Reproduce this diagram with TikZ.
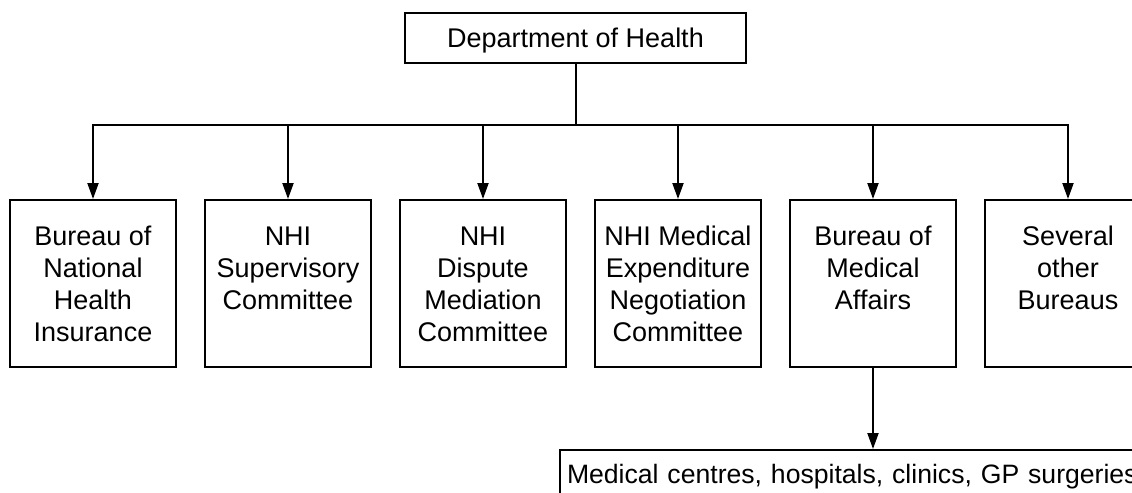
\documentclass[tikz,border=0pt]{standalone}
\usepackage{fontspec}
\setmainfont{Liberation Sans}
\usetikzlibrary{positioning,arrows.meta}

\newcommand{\stacked}[1]{\begin{tabular}[t]{@{}c@{}}#1\end{tabular}}

\begin{document}
\begin{tikzpicture}[line width=1pt,>={Triangle[length=8pt,width=5.5pt]},
				every node/.style={font=\fontsize{13.5pt}{16pt}\selectfont},
				head/.style={draw,minimum width=170.5pt,minimum height=25pt,inner sep=0pt,text height=9.7pt,text depth=0pt},
				unit/.style={draw,minimum width=83pt,inner sep=0pt,text height=22.5pt,text depth=61pt},
				care/.style={draw,anchor=north west,text width=300pt,align=left,inner xsep=3.5pt,inner ysep=6.5pt,text height=10pt,text depth=20pt,
					font=\fontsize{13.3pt}{16pt}\selectfont},
				node distance=13.5pt]
				\useasboundingbox (0,0) rectangle (566pt,-246.5pt);
				\node (DOH)   [head] at (287.75pt,-19pt)                        {Department of Health};
				\node (BNHI)  [unit,anchor=north west] at (4.5pt,-99.5pt)       {\stacked{Bureau of\\National\\Health\\Insurance}};
				\node (SUP)   [unit,right=of BNHI]                              {\stacked{NHI\\Supervisory\\Committee}};
				\node (DISP)  [unit,right=of SUP]                               {\stacked{NHI\\Dispute\\Mediation\\Committee}};
				\node (NEGO)  [unit,right=of DISP]                              {\stacked{NHI Medical\\Expenditure\\Negotiation\\Committee}};
				\node (BMA)   [unit,right=of NEGO]                              {\stacked{Bureau of\\Medical\\Affairs}};
				\node (OTHER) [unit,right=of BMA]                               {\stacked{Several\\other\\Bureaus}};
				\node (CARE)  [care] at (279.5pt,-224.5pt)                      {Medical centres, hospitals, clinics, GP surgeries};
				\path (DOH.south) ++(0,-30.5pt) coordinate (BUS);
				
				\draw (DOH.south) -- (BUS);
				\draw[line cap=rect] (BUS -| BNHI.north) -- (BUS -| OTHER.north);
				\foreach \n in {BNHI,SUP,DISP,NEGO,BMA,OTHER}
					\draw[->] (BUS -| \n.north) -- (\n.north);
				\draw[->] (BMA.south) -- (BMA.south |- CARE.north);
			\end{tikzpicture}
\end{document}
